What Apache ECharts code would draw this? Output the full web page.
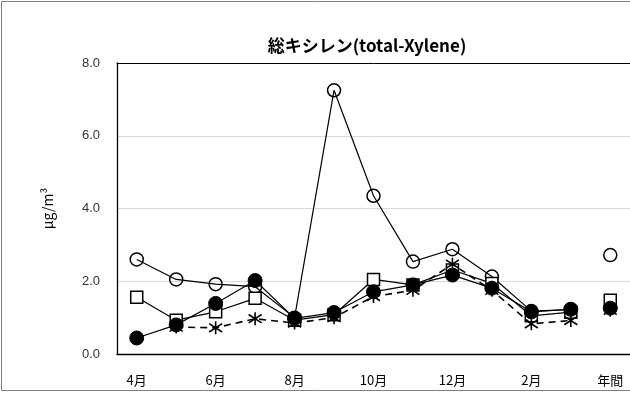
<!DOCTYPE html>
<html><head><meta charset="utf-8">
<script src="https://cdn.jsdelivr.net/npm/echarts@6/dist/echarts.min.js"></script>
<style>html,body{margin:0;padding:0;background:#fff}#c{width:630px;height:394px}</style>
</head><body><div id="c"></div>
<script>
var categories = ['4月','5月','6月','7月','8月','9月','10月','11月','12月','1月','2月','3月','年間'];
var yTicks = [0, 2, 4, 6, 8];
var seriesOpenCircle = [2.60, 2.05, 1.92, 1.85, 1.00, 7.25, 4.35, 2.54, 2.88, 2.13, 1.18, 1.22, 2.72];
var seriesSquare     = [1.56, 0.93, 1.16, 1.53, 0.93, 1.08, 2.05, 1.90, 2.31, 1.94, 1.05, 1.15, 1.48];
var seriesAsterisk   = [null, 0.74, 0.72, 0.97, 0.85, 1.00, 1.58, 1.75, 2.47, 1.75, 0.83, 0.92, 1.20];
var seriesFilled     = [0.44, 0.80, 1.39, 2.02, 0.98, 1.14, 1.71, 1.90, 2.17, 1.81, 1.16, 1.23, 1.26];

var chart = echarts.init(document.getElementById('c'), null, {renderer:'canvas'});
var star = 'path://M0,-1L0,1M-0.75,-0.65L0.75,0.65M-0.75,0.65L0.75,-0.65';
function mkSeries(data, opts){
  return {
    type:'line', data: data, symbol: opts.symbol, symbolSize: opts.size,
    connectNulls:false, animation:false, z: opts.z,
    showAllSymbol:true,
    itemStyle:{color: opts.fill, borderColor:'#000', borderWidth: opts.bw},
    lineStyle:{color:'#000', width: opts.lw, type: opts.dash ? [7,5] : 'solid'},
    emphasis:{disabled:true}
  };
}
function lineOnly(arr){ var d = arr.slice(); d[d.length-1] = null; return d; }
function annualOnly(arr){ return arr.map(function(v,i){ return i===arr.length-1 ? v : null; }); }

var defs = [
  {data: seriesOpenCircle, symbol:'circle', size:13, fill:'rgba(255,255,255,0)', bw:1.5, lw:1.2, dash:false, z:2},
  {data: seriesSquare, symbol:'rect', size:12, fill:'#fff', bw:1.5, lw:1.2, dash:false, z:3},
  {data: seriesAsterisk, symbol:star, size:13, fill:'#000', bw:1.6, lw:1.6, dash:true, z:4},
  {data: seriesFilled, symbol:'circle', size:14, fill:'#000', bw:1, lw:1.2, dash:false, z:5}
];
var series = [];
defs.forEach(function(o){
  series.push(mkSeries(lineOnly(o.data), o), mkSeries(annualOnly(o.data), o));
});

chart.setOption({
  animation:false,
  title:{text:'総キシレン(total-Xylene)', left:362, top:32, textAlign:'center',
    textStyle:{fontFamily:'Noto Sans CJK JP', fontWeight:'bold', fontSize:17, color:'#000'}},
  grid:{left:117, right:0, top:63, bottom:40},
  xAxis:[{type:'category', data:categories, boundaryGap:true, position:'bottom',
    axisLine:{lineStyle:{color:'#000', width:1.3}}, axisTick:{show:false},
    axisLabel:{interval:1, color:'#000', fontSize:13, fontFamily:'Noto Sans CJK JP', margin:20}},
    {type:'category', data:categories, position:'top', axisLine:{show:true, lineStyle:{color:'#000', width:1}},
    axisTick:{show:false}, axisLabel:{show:false}}],
  yAxis:{type:'value', min:yTicks[0], max:yTicks[yTicks.length-1], interval:2,
    name:'μg/m³', nameLocation:'middle', nameGap:62, nameRotate:90,
    nameTextStyle:{fontFamily:'Noto Sans CJK JP', fontSize:14, color:'#000'},
    axisLine:{show:true, lineStyle:{color:'#000', width:1.3}}, axisTick:{show:false},
    axisLabel:{formatter:function(v){return v.toFixed(1);}, color:'#333', fontSize:13, fontFamily:'Liberation Sans', margin:17},
    splitLine:{show:true, lineStyle:{color:'#d9d9d9', width:1}}},
  graphic:[{type:'rect', shape:{x:1.5, y:1.5, width:700, height:389}, style:{fill:'none', stroke:'#808080', lineWidth:1}, silent:true, z:-1}],
  series: series
});
</script></body></html>
